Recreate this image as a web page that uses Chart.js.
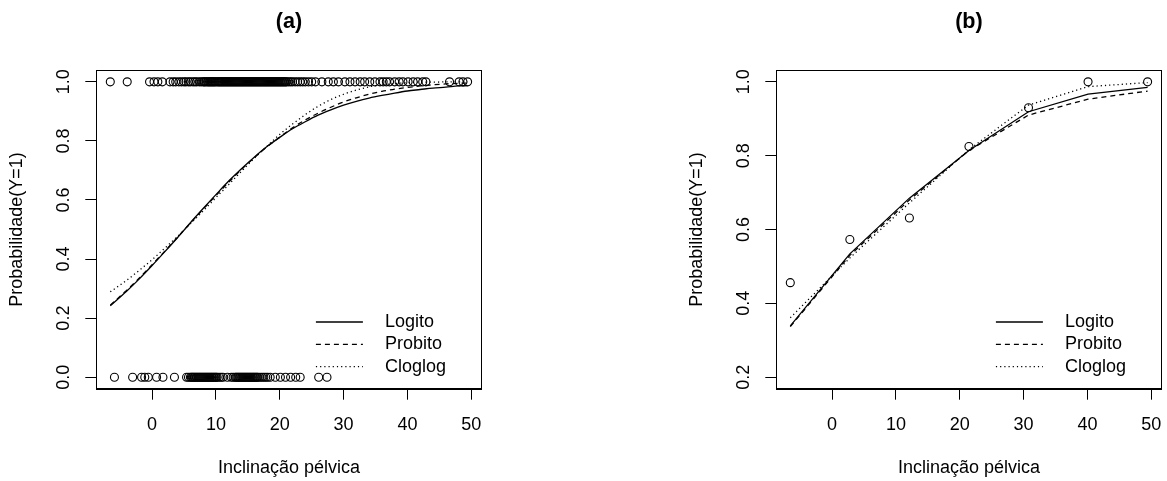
<!DOCTYPE html>
<html>
<head>
<meta charset="utf-8">
<script src="https://cdn.jsdelivr.net/npm/chart.js@4.4.1/dist/chart.umd.min.js"></script>
<style>
  body { margin: 0; background: #fff; }
  #wrap { position: relative; width: 1167px; height: 481px; background: #fff; }
  canvas { position: absolute; top: 0; }
  #chartA { left: 0; }
  #chartB { left: 680px; }
</style>
</head>
<body>
<div id="wrap">
  <canvas id="chartA" width="487" height="481"></canvas>
  <canvas id="chartB" width="487" height="481"></canvas>
</div>
<script>
// panel (a): observed pelvic tilt, Y = 1
const obsA1 = [-6.55, -3.9, -0.4, 0.3, 0.9, 1.6,
  2.8, 3.3, 3.7, 4.2, 4.6, 5.0, 5.3, 5.7, 6.0, 6.4, 6.7, 7.0, 7.4, 7.7, 8.0, 8.3, 8.7, 9.0, 9.3, 9.6, 9.9,
  10.3, 10.6, 10.9, 11.2, 11.5, 11.8, 12.1, 12.4, 12.7, 13.0, 13.3, 13.6, 13.9, 14.2, 14.5, 14.8, 15.1,
  15.4, 15.7, 16.0, 16.3, 16.6, 16.9, 17.2, 17.5, 17.8, 18.1, 18.4, 18.7, 19.0, 19.3, 19.6, 19.9, 20.2,
  20.5, 20.8, 21.1, 21.4, 21.7, 22.0, 22.4, 22.8, 23.2, 23.6, 24.0, 24.5, 25.0,
  8.15, 8.5, 8.85, 9.15, 9.45, 9.75, 10.1, 10.45, 10.75, 11.05, 11.35, 11.65, 11.95, 12.25, 12.55, 12.85,
  13.15, 13.45, 13.75, 14.05, 14.35, 14.65, 14.95, 15.25, 15.55, 15.85, 16.15, 16.45, 16.75, 17.05, 17.35,
  17.65, 17.95, 18.25, 18.55, 18.85, 19.15, 19.45, 19.75, 20.05, 20.35, 20.65, 20.95,
  25.6, 26.6, 27.6, 28.4, 29.2, 30.2, 31.0, 31.8, 32.6, 33.3, 34.1, 34.9, 35.7, 36.2, 36.7, 37.2, 38.0,
  38.7, 39.3, 40.1, 40.9, 41.6, 42.4, 42.9, 46.6, 48.1, 48.7, 49.43];
// panel (a): observed pelvic tilt, Y = 0
const obsA0 = [-5.9, -3.05, -1.65, -1.15, -0.6, 0.7, 1.7, 3.5,
  5.4, 5.7, 6.0, 6.3, 6.6, 6.9, 7.2, 7.5, 7.8, 8.1, 8.4, 8.7, 9.0, 9.3, 9.6, 9.9, 10.2, 10.5, 10.8, 11.1, 11.8,
  12.4, 12.7, 13.0, 13.3, 13.6, 13.9, 14.2, 14.5, 14.8, 15.1, 15.4, 15.7, 16.0, 16.3, 16.6, 16.9, 17.2,
  17.5, 17.8, 18.1, 18.5, 19.3, 20.1, 20.9, 21.7, 22.5, 23.2, 26.1, 27.4,
  6.15, 6.45, 6.75, 7.05, 7.35, 7.65, 7.95, 8.25, 8.55, 8.85, 9.15, 9.45, 9.75, 10.05,
  13.15, 13.45, 13.75, 14.05, 14.35, 14.65, 14.95, 15.25, 15.55, 15.85, 16.15, 16.45];

// panel (a): fitted curves
const curveXA = [-6.55, -4, -2, 0, 2, 4, 6, 8, 10, 12, 14, 16, 18, 20, 22, 24, 26, 28, 30, 32, 34, 36, 38, 40, 42, 44, 46, 48, 49.43];
const logitA = [0.242, 0.291, 0.333, 0.378, 0.425, 0.473, 0.523, 0.571, 0.618, 0.664, 0.706, 0.745, 0.781, 0.812,
  0.841, 0.865, 0.887, 0.905, 0.921, 0.934, 0.945, 0.954, 0.962, 0.969, 0.974, 0.979, 0.982, 0.986, 0.987];
const probitA = [0.244, 0.294, 0.336, 0.381, 0.427, 0.474, 0.522, 0.569, 0.615, 0.660, 0.703, 0.743, 0.780, 0.813,
  0.844, 0.871, 0.894, 0.914, 0.932, 0.946, 0.958, 0.968, 0.975, 0.981, 0.986, 0.990, 0.993, 0.995, 0.996];
const cloglogA = [0.289, 0.328, 0.362, 0.398, 0.437, 0.477, 0.519, 0.563, 0.608, 0.652, 0.697, 0.741, 0.782, 0.822,
  0.857, 0.889, 0.917, 0.940, 0.958, 0.972, 0.983, 0.990, 0.994, 0.997, 0.999, 0.999, 1.0, 1.0, 1.0];

// panel (b): grouped proportions and fitted values
const groupXB = [-6.55, 2.78, 12.11, 21.44, 30.77, 40.1, 49.43];
const propB = [0.456, 0.573, 0.631, 0.825, 0.930, 1.0, 1.0];
const logitB = [0.339, 0.534, 0.685, 0.814, 0.919, 0.967, 0.985];
const probitB = [0.337, 0.530, 0.680, 0.814, 0.910, 0.953, 0.975];
const cloglogB = [0.361, 0.523, 0.672, 0.816, 0.937, 0.987, 0.998];

const xTicks = [0, 10, 20, 30, 40, 50];
const yTicksA = [0, 0.2, 0.4, 0.6, 0.8, 1.0];
const yTicksB = [0.2, 0.4, 0.6, 0.8, 1.0];

const FONT = "'Liberation Sans', Arial, sans-serif";

const pts = (xs, ys) => xs.map((x, i) => ({ x: x, y: ys[i] }));
const flat = (xs, v) => xs.map((x) => ({ x: x, y: v }));

//box round the plot region
const boxPlugin = {
  id: "box",
  afterDraw(chart) {
    const { ctx, chartArea } = chart;
    const l = Math.round(chartArea.left) + 0.5;
    const t = Math.round(chartArea.top) + 0.5;
    const r = Math.round(chartArea.right) - 0.5;
    const b = Math.round(chartArea.bottom) - 0.5;
    ctx.save();
    ctx.strokeStyle = "#000";
    ctx.lineWidth = 1;
    ctx.strokeRect(l, t, r - l, b - t);
    ctx.restore();
  },
};

//legend in the bottom right corner, no frame
const legendPlugin = {
  id: "rLegend",
  afterDraw(chart) {
    const { ctx, chartArea } = chart;
    const rows = [67, 44.7, 22.4];
    ctx.save();
    ctx.font = `18px ${FONT}`;
    ctx.textBaseline = "middle";
    ctx.textAlign = "left";
    ctx.fillStyle = "#000";
    chart.data.datasets
      .filter((d) => d.showLine)
      .forEach((d, i) => {
        const y = chartArea.bottom - rows[i];
        ctx.beginPath();
        ctx.setLineDash(d.borderDash);
        ctx.lineWidth = d.borderWidth;
        ctx.strokeStyle = d.borderColor;
        ctx.moveTo(chartArea.right - 166, y);
        ctx.lineTo(chartArea.right - 119, y);
        ctx.stroke();
        ctx.fillText(d.label, chartArea.right - 97, y);
      });
    ctx.restore();
  },
};

const pointSet = (data) => ({
  label: "obs",
  data: data,
  showLine: false,
  pointRadius: 4,
  pointHoverRadius: 4,
  pointBorderWidth: 1.1,
  pointBorderColor: "#000",
  pointBackgroundColor: "rgba(0,0,0,0)",
  order: 10,
});

const lineSet = (label, data, dash, smooth) => ({
  label: label,
  data: data,
  showLine: true,
  pointRadius: 0,
  borderColor: "#000",
  borderWidth: 1.3,
  borderDash: dash,
  cubicInterpolationMode: smooth ? "monotone" : "default",
  tension: 0,
  order: 1,
});

function makeChart(id, title, pointSets, lines, yMin, yMax, yTicks, padRight) {
  return new Chart(document.getElementById(id), {
    type: "scatter",
    data: { datasets: [...lines, ...pointSets] },
    options: {
      responsive: false,
      animation: false,
      devicePixelRatio: 1,
      layout: { padding: { left: 0, right: padRight, top: 0, bottom: 0 } },
      plugins: {
        legend: { display: false },
        tooltip: { enabled: false },
        title: {
          display: true,
          text: title,
          fullSize: false,
          color: "#000",
          font: { family: FONT, size: 21.6, weight: "bold" },
          padding: { top: 9.3, bottom: 34.8 },
        },
      },
      scales: {
        x: {
          type: "linear",
          min: -8.79,
          max: 51.67,
          afterBuildTicks: (s) => {
            s.ticks = xTicks.map((v) => ({ value: v }));
          },
          afterFit: (s) => {
            s.height = 92;
            s.paddingLeft = 0;
            s.paddingRight = 0;
          },
          ticks: { color: "#000", font: { family: FONT, size: 18 }, padding: 14.4 },
          grid: { drawOnChartArea: false, drawTicks: true, tickLength: 10.7, color: "#000", lineWidth: 1 },
          border: { display: true, color: "#000", width: 1 },
          title: {
            display: true,
            text: "Inclinação pélvica",
            color: "#000",
            font: { family: FONT, size: 18 },
            padding: { top: 0, bottom: 2.1 },
          },
        },
        y: {
          type: "linear",
          min: yMin,
          max: yMax,
          afterBuildTicks: (s) => {
            s.ticks = yTicks.map((v) => ({ value: v }));
          },
          afterFit: (s) => {
            s.width = 96;
            s.paddingTop = 0;
            s.paddingBottom = 0;
          },
          ticks: {
            color: "#000",
            font: { family: FONT, size: 18 },
            minRotation: 90,
            maxRotation: 90,
            crossAlign: "center",
            padding: 9.2,
            callback: (v) => Number(v).toFixed(1),
          },
          grid: { drawOnChartArea: false, drawTicks: true, tickLength: 10.7, color: "#000", lineWidth: 1 },
          border: { display: true, color: "#000", width: 1 },
          title: {
            display: true,
            text: "Probabilidade(Y=1)",
            color: "#000",
            font: { family: FONT, size: 18 },
            padding: { top: 6.1, bottom: 0 },
          },
        },
      },
    },
    plugins: [boxPlugin, legendPlugin],
  });
}

//panel (a)
makeChart(
  "chartA",
  "(a)",
  [pointSet(flat(obsA1, 1)), pointSet(flat(obsA0, 0))],
  [
    lineSet("Logito", pts(curveXA, logitA), [], true),
    lineSet("Probito", pts(curveXA, probitA), [5, 4], true),
    lineSet("Cloglog", pts(curveXA, cloglogA), [1.2, 3], true),
  ],
  -0.04, 1.04, yTicksA, 3
);

//panel (b)
makeChart(
  "chartB",
  "(b)",
  [pointSet(pts(groupXB, propB))],
  [
    lineSet("Logito", pts(groupXB, logitB), [], false),
    lineSet("Probito", pts(groupXB, probitB), [5, 4], false),
    lineSet("Cloglog", pts(groupXB, cloglogB), [1.2, 3], false),
  ],
  0.168, 1.032, yTicksB, 3
);
</script>
</body>
</html>
